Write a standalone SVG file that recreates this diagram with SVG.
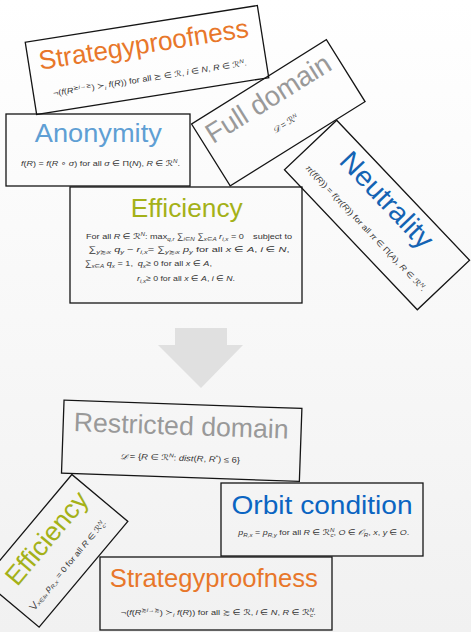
<svg xmlns="http://www.w3.org/2000/svg" width="471" height="632" viewBox="0 0 471 632">
<style>
.box{fill:none;stroke:#151515;stroke-width:1.3}
.t{font-family:"Liberation Sans","DejaVu Sans",sans-serif;font-size:26.5px;text-anchor:middle}
.m{font-family:"Liberation Sans","DejaVu Sans",sans-serif;font-size:8px;fill:#333}
.c{text-anchor:middle}
.i{font-style:italic}
.sup{font-size:5.5px;baseline-shift:3.2px}
.sub{font-size:5.5px;baseline-shift:-1.8px}
.orange{fill:#e8772a}
.lblue{fill:#5f9fd4}
.olive{fill:#a4b118}
.gray{fill:#999999}
.dblue{fill:#1463b3}
.mblue{fill:#0b65c2}
</style>
<defs>
<linearGradient id="bg" x1="0" y1="0" x2="0" y2="1">
<stop offset="0" stop-color="#ffffff"/>
<stop offset="1" stop-color="#f1f1f1"/>
</linearGradient>
</defs>
<rect x="0" y="0" width="471" height="632" fill="url(#bg)"/>

<g id="connectors">
<polygon points="175,328 227,328 227,345 243,345 201,388 158,345 175,345" fill="#e0e0e0"/>
</g>

<g id="strategyproofness-top" transform="translate(147,60) rotate(-9)">
<rect class="box" x="-117.5" y="-36.5" width="235" height="73"/>
<text class="t orange" x="-1" y="-7" textLength="212" lengthAdjust="spacingAndGlyphs">Strategyproofness</text>
<text class="m c" x="0" y="21" textLength="196" lengthAdjust="spacingAndGlyphs">¬(<tspan class="i">f</tspan>(<tspan class="i">R</tspan><tspan class="sup">≿<tspan class="i">i</tspan>→≿</tspan>) ≻<tspan class="sub i">i</tspan> <tspan class="i">f</tspan>(<tspan class="i">R</tspan>)) for all ≿ ∈ ℛ, <tspan class="i">i</tspan> ∈ <tspan class="i">N</tspan>, <tspan class="i">R</tspan> ∈ ℛ<tspan class="sup i">N</tspan>.</text>
</g>

<g id="full-domain" transform="translate(278.3,112.8) rotate(-32)">
<rect class="box" x="-79.5" y="-36.5" width="159" height="73"/>
<text class="t gray" x="-1" y="-8" textLength="142" lengthAdjust="spacingAndGlyphs" style="font-size:28px">Full domain</text>
<text class="m c" x="0" y="16" style="font-size:9px"><tspan class="i">𝒟</tspan> = ℛ<tspan class="sup i">N</tspan></text>
</g>

<g id="anonymity">
<rect class="box" x="6" y="114" width="184" height="72"/>
<text class="t lblue" x="98.3" y="142" textLength="127" lengthAdjust="spacingAndGlyphs">Anonymity</text>
<text class="m c" x="100.5" y="165.5" textLength="159" lengthAdjust="spacingAndGlyphs"><tspan class="i">f</tspan>(<tspan class="i">R</tspan>) = <tspan class="i">f</tspan>(<tspan class="i">R</tspan> ∘ <tspan class="i">σ</tspan>) for all <tspan class="i">σ</tspan> ∈ Π(<tspan class="i">N</tspan>), <tspan class="i">R</tspan> ∈ ℛ<tspan class="sup i">N</tspan>.</text>
</g>

<g id="neutrality" transform="translate(377,215) rotate(46.5)">
<rect class="box" x="-96.5" y="-36" width="193" height="72"/>
<text class="t dblue" x="-4" y="-8" textLength="122" lengthAdjust="spacingAndGlyphs" style="font-size:28px">Neutrality</text>
<text class="m c" x="2" y="20" textLength="170" lengthAdjust="spacingAndGlyphs"><tspan class="i">π</tspan>(<tspan class="i">f</tspan>(<tspan class="i">R</tspan>)) = <tspan class="i">f</tspan>(<tspan class="i">π</tspan>(<tspan class="i">R</tspan>)) for all <tspan class="i">π</tspan> ∈ Π(<tspan class="i">A</tspan>), <tspan class="i">R</tspan> ∈ ℛ<tspan class="sup i">N</tspan>.</text>
</g>

<g id="efficiency-top">
<rect class="box" x="70" y="187" width="232" height="116"/>
<text class="t olive" x="186.7" y="216.5" textLength="112" lengthAdjust="spacingAndGlyphs">Efficiency</text>
<text class="m" x="86" y="238.5" textLength="206" lengthAdjust="spacingAndGlyphs">For all <tspan class="i">R</tspan> ∈ ℛ<tspan class="sup i">N</tspan>: max<tspan class="sub i">q,r</tspan> ∑<tspan class="sub i">i∈N</tspan> ∑<tspan class="sub i">x∈A</tspan> <tspan class="i">r</tspan><tspan class="sub i">i,x</tspan> = 0 <tspan dx="6">subject to</tspan></text>
<text class="m" x="88.5" y="252" textLength="201" lengthAdjust="spacingAndGlyphs">∑<tspan class="sub i">y≿ᵢx</tspan> <tspan class="i">q</tspan><tspan class="sub i">y</tspan> − <tspan class="i">r</tspan><tspan class="sub i">i,x</tspan>= ∑<tspan class="sub i">y≿ᵢx</tspan> <tspan class="i">p</tspan><tspan class="sub i">y</tspan> for all <tspan class="i">x</tspan> ∈ <tspan class="i">A</tspan>, <tspan class="i">i</tspan> ∈ <tspan class="i">N</tspan>,</text>
<text class="m" x="85" y="265.5" textLength="127" lengthAdjust="spacingAndGlyphs">∑<tspan class="sub i">x∈A</tspan> <tspan class="i">q</tspan><tspan class="sub i">x</tspan> = 1, <tspan dx="2" class="i">q</tspan><tspan class="sub i">x</tspan>≥ 0 for all <tspan class="i">x</tspan> ∈ <tspan class="i">A</tspan>,</text>
<text class="m" x="137" y="281" textLength="98" lengthAdjust="spacingAndGlyphs"><tspan class="i">r</tspan><tspan class="sub i">i,x</tspan>≥ 0 for all <tspan class="i">x</tspan> ∈ <tspan class="i">A</tspan>, <tspan class="i">i</tspan> ∈ <tspan class="i">N</tspan>.</text>
</g>

<g id="restricted-domain" transform="translate(181.7,440.8) rotate(2)">
<rect class="box" x="-119" y="-36.5" width="238" height="73"/>
<text class="t gray" x="-1" y="-6" textLength="215" lengthAdjust="spacingAndGlyphs">Restricted domain</text>
<text class="m c" x="-1" y="20" textLength="120" lengthAdjust="spacingAndGlyphs"><tspan class="i">𝒟</tspan> = {<tspan class="i">R</tspan> ∈ ℛ<tspan class="sup i">N</tspan>: <tspan class="i">dist</tspan>(<tspan class="i">R</tspan>, <tspan class="i">R</tspan><tspan class="sup">*</tspan>) ≤ 6}</text>
</g>

<g id="orbit-condition">
<rect class="box" x="221" y="483" width="202" height="73"/>
<text class="t mblue" x="322" y="514" textLength="181" lengthAdjust="spacingAndGlyphs">Orbit condition</text>
<text class="m c" x="323.8" y="534.5" textLength="171" lengthAdjust="spacingAndGlyphs"><tspan class="i">p</tspan><tspan class="sub i">R,x</tspan> = <tspan class="i">p</tspan><tspan class="sub i">R,y</tspan> for all <tspan class="i">R</tspan> ∈ ℛ<tspan class="sup i">N</tspan><tspan class="sub i" dx="-3.5">c</tspan>, <tspan class="i">O</tspan> ∈ <tspan class="i">𝒪</tspan><tspan class="sub i">R</tspan>, <tspan class="i">x</tspan>, <tspan class="i">y</tspan> ∈ <tspan class="i">O</tspan>.</text>
</g>

<g id="efficiency-bottom" transform="translate(55.5,550.8) rotate(-50)">
<rect class="box" x="-69" y="-36.5" width="138" height="73"/>
<text class="t olive" x="4" y="-6" textLength="113" lengthAdjust="spacingAndGlyphs">Efficiency</text>
<text class="m c" x="-3" y="21" textLength="114" lengthAdjust="spacingAndGlyphs">⋁<tspan class="sub i">x∈I<tspan style="font-size:4px">R</tspan></tspan> <tspan class="i">p</tspan><tspan class="sub i">R,x</tspan> = 0 for all <tspan class="i">R</tspan> ∈ ℛ<tspan class="sup i">N</tspan><tspan class="sub i" dx="-3.5">c</tspan>.</text>
</g>

<g id="strategyproofness-bottom">
<rect class="box" x="100" y="557" width="232" height="73"/>
<text class="t orange" x="213.8" y="587" textLength="208" lengthAdjust="spacingAndGlyphs">Strategyproofness</text>
<text class="m c" x="218.3" y="615" textLength="195" lengthAdjust="spacingAndGlyphs">¬(<tspan class="i">f</tspan>(<tspan class="i">R</tspan><tspan class="sup">≿<tspan class="i">i</tspan>→≿</tspan>) ≻<tspan class="sub i">i</tspan> <tspan class="i">f</tspan>(<tspan class="i">R</tspan>)) for all ≿ ∈ ℛ, <tspan class="i">i</tspan> ∈ <tspan class="i">N</tspan>, <tspan class="i">R</tspan> ∈ ℛ<tspan class="sup i">N</tspan><tspan class="sub i" dx="-3.5">c</tspan>.</text>
</g>
</svg>
